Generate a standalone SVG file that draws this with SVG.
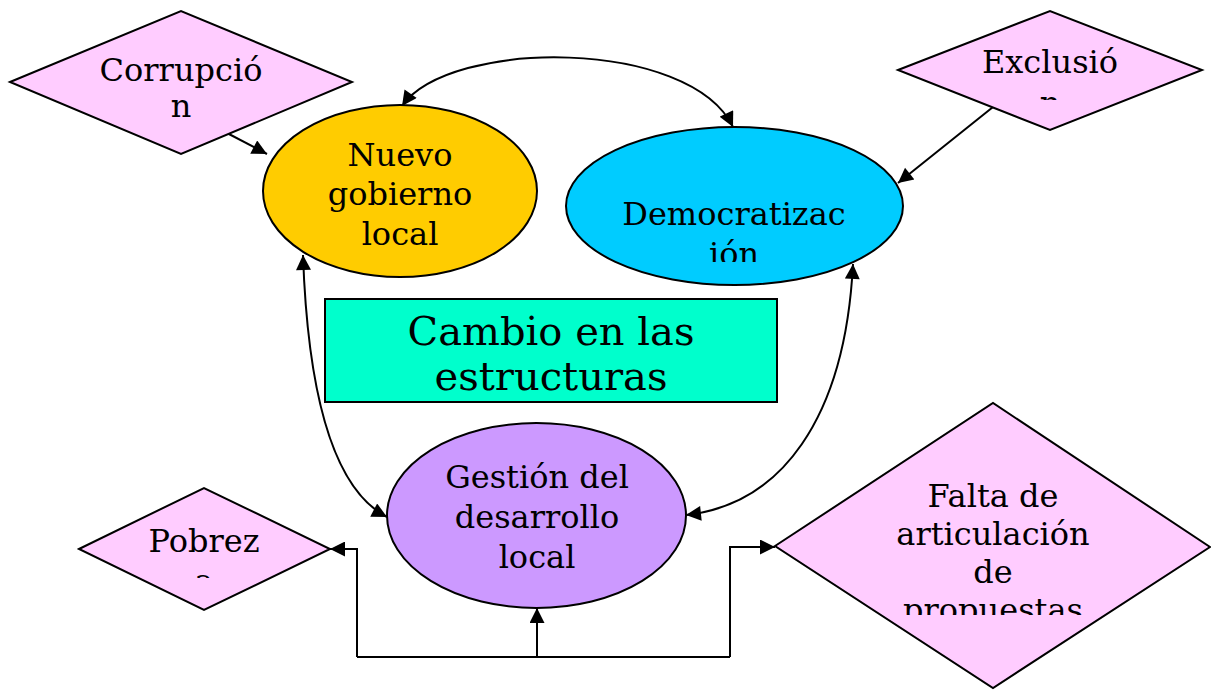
<svg xmlns="http://www.w3.org/2000/svg" width="1211" height="691" viewBox="0 0 1211 691">
<style>
.s{stroke:#000;stroke-width:2}
.t{font-family:"DejaVu Serif","Liberation Serif",serif;font-size:32px;fill:#000;text-anchor:middle}
.big{font-size:40px}
.c{fill:none;stroke:#000;stroke-width:2}
.d{fill:#FFCCFF}
</style>
<defs>
<marker id="ah" viewBox="0 0 10 10" refX="10" refY="5" markerWidth="17" markerHeight="15" markerUnits="userSpaceOnUse" orient="auto-start-reverse">
<path d="M0,0 L10,5 L0,10 Z" fill="#000"/>
</marker>
<clipPath id="cpC"><rect x="0" y="0" width="400" height="119"/></clipPath>
<clipPath id="cpE"><rect x="880" y="0" width="331" height="100"/></clipPath>
<clipPath id="cpD"><rect x="560" y="120" width="360" height="142"/></clipPath>
<clipPath id="cpP"><rect x="60" y="480" width="300" height="98"/></clipPath>
<clipPath id="cpF"><rect x="770" y="400" width="441" height="215"/></clipPath>
</defs>
<rect width="1211" height="691" fill="#fff"/>
<g id="connectors">
<path class="c" d="M402,106 C450,38 690,38 733,127" marker-start="url(#ah)" marker-end="url(#ah)"/>
<path class="c" d="M303,255 C308,400 335,490 387,517" marker-start="url(#ah)" marker-end="url(#ah)"/>
<path class="c" d="M853,264 C845,420 780,505 686,515" marker-start="url(#ah)" marker-end="url(#ah)"/>
<path class="c" d="M227,133 L267,154" marker-end="url(#ah)"/>
<path class="c" d="M993,107 L898,183" marker-end="url(#ah)"/>
<path class="c" d="M537,657 L537,608" marker-end="url(#ah)"/>
<path class="c" d="M357,657 L730,657"/>
<path class="c" d="M357,657 L357,549 L330,549" marker-end="url(#ah)"/>
<path class="c" d="M730,657 L730,547 L775,547" marker-end="url(#ah)"/>
</g>
<g id="corrupcion">
<polygon class="d s" points="10,82 181,11 352,82 181,154"/>
<g clip-path="url(#cpC)"><text class="t" x="181" y="81">Corrupció</text><text class="t" x="181" y="117">n</text></g>
</g>
<g id="exclusion">
<polygon class="d s" points="898,70 1050,11 1202,70 1050,130"/>
<g clip-path="url(#cpE)"><text class="t" x="1050" y="73">Exclusió</text><text class="t" x="1050" y="114">n</text></g>
</g>
<g id="nuevo">
<ellipse class="s" cx="400" cy="191" rx="137" ry="86" fill="#FFCC00"/>
<text class="t" x="400" y="166">Nuevo</text>
<text class="t" x="400" y="205">gobierno</text>
<text class="t" x="400" y="245">local</text>
</g>
<g id="democratizacion">
<ellipse class="s" cx="734.5" cy="206" rx="168.5" ry="79" fill="#00CCFF"/>
<g clip-path="url(#cpD)"><text class="t" x="734" y="225">Democratizac</text><text class="t" x="734" y="265">ión</text></g>
</g>
<g id="cambio">
<rect class="s" x="325" y="299" width="452" height="103" fill="#00FFCC"/>
<text class="t big" x="551" y="345">Cambio en las</text>
<text class="t big" x="551" y="390">estructuras</text>
</g>
<g id="gestion">
<ellipse class="s" cx="536.5" cy="515.5" rx="149.5" ry="92.5" fill="#CC99FF"/>
<text class="t" x="537" y="488">Gestión del</text>
<text class="t" x="537" y="528">desarrollo</text>
<text class="t" x="537" y="568">local</text>
</g>
<g id="pobreza">
<polygon class="d s" points="79,549 204,488 330,549 204,610"/>
<g clip-path="url(#cpP)"><text class="t" x="204" y="552">Pobrez</text><text class="t" x="204" y="592">a</text></g>
</g>
<g id="falta">
<polygon class="d s" points="775,546 993,403 1210,547 993,688"/>
<g clip-path="url(#cpF)"><text class="t" x="993" y="507">Falta de</text><text class="t" x="993" y="545">articulación</text><text class="t" x="993" y="583">de</text><text class="t" x="993" y="621">propuestas</text></g>
</g>
</svg>
